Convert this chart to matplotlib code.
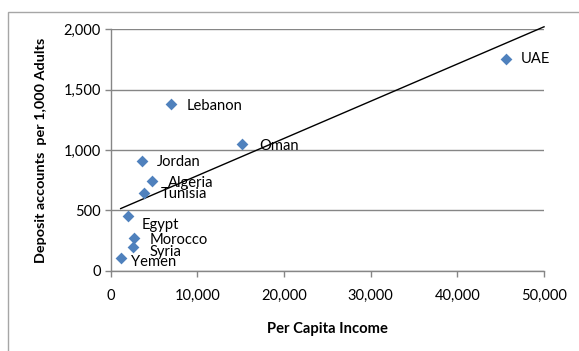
import numpy as np
import matplotlib.pyplot as plt
from matplotlib.patches import Rectangle
from matplotlib.ticker import FuncFormatter, MultipleLocator

# Deposit accounts vs per capita income, by country
countries = ["Lebanon", "Oman", "Jordan", "Algeria", "Tunisia",
             "Egypt", "Morocco", "Syria", "Yemen", "UAE"]
income = [7000, 15200, 3600, 4800, 3800, 2000, 2700, 2600, 1150, 45600]
deposits = [1380, 1050, 908, 747, 645, 450, 275, 200, 108, 1756]

# label offsets in points (dx, dy)
label_offsets = [(11, -1), (12, -1.5), (11, -0.5), (11, -1.5), (12, -1),
                 (10, -6.5), (11, -2), (11.5, -4), (7.5, -3), (11, -0.5)]

GRID = "#868686"
BLUE = "#4F81BD"
FONT = "Lato"

fig = plt.figure(figsize=(5.79, 3.51), dpi=100)

# chart border
fig.patches.append(Rectangle((8 / 579, -0.1), 1.1, 1.1 - 12 / 351,
                             transform=fig.transFigure, fill=False,
                             edgecolor="#A6A6A6", linewidth=1.0))

# caption above the chart (mostly cut off at the top edge)
fig.text(-8 / 579, 1 + 5.5 / 351, "Figure 9: Deposit and population penetration",
         fontsize=15, family="Liberation Serif", weight="bold", style="italic",
         va="baseline", ha="left")

ax = fig.add_axes([0.1912, 0.2288, 0.7484, 0.6877])

ax.scatter(income, deposits, marker="D", s=36, color=BLUE, zorder=3,
           linewidths=0)

for name, x, y, off in zip(countries, income, deposits, label_offsets):
    ax.annotate(name, (x, y), xytext=off, textcoords="offset points",
                fontsize=10.6, family=FONT, va="center", ha="left", zorder=4)

# linear trendline
slope, intercept = np.polyfit(income, deposits, 1)
xs = np.array([min(income), 50000])
ax.plot(xs, slope * xs + intercept, color="black", linewidth=1.0,
        zorder=2, clip_on=False)

ax.set_xlim(0, 50000)
ax.set_ylim(0, 2000)
ax.xaxis.set_major_locator(MultipleLocator(10000))
ax.yaxis.set_major_locator(MultipleLocator(500))
fmt = FuncFormatter(lambda v, p: f"{int(v):,}")
ax.xaxis.set_major_formatter(fmt)
ax.yaxis.set_major_formatter(fmt)

ax.grid(axis="y", color=GRID, linewidth=1.0)
ax.set_axisbelow(True)
for side in ["top", "right"]:
    ax.spines[side].set_visible(False)
for side in ["left", "bottom"]:
    ax.spines[side].set_color(GRID)
    ax.spines[side].set_linewidth(1.0)

ax.tick_params(axis="both", colors=GRID, labelcolor="black", length=4,
               width=1.0, labelsize=10.5)
ax.tick_params(axis="x", pad=9)
ax.tick_params(axis="y", pad=3)
for lab in ax.get_xticklabels() + ax.get_yticklabels():
    lab.set_family(FONT)

ax.set_xlabel("Per Capita Income", fontsize=10.6, family=FONT, weight="bold",
              labelpad=14)
ax.set_ylabel("Deposit accounts  per 1,000 Adults", fontsize=10.4, family=FONT,
              weight="bold", labelpad=12)

fig.savefig("out.png", dpi=100)
